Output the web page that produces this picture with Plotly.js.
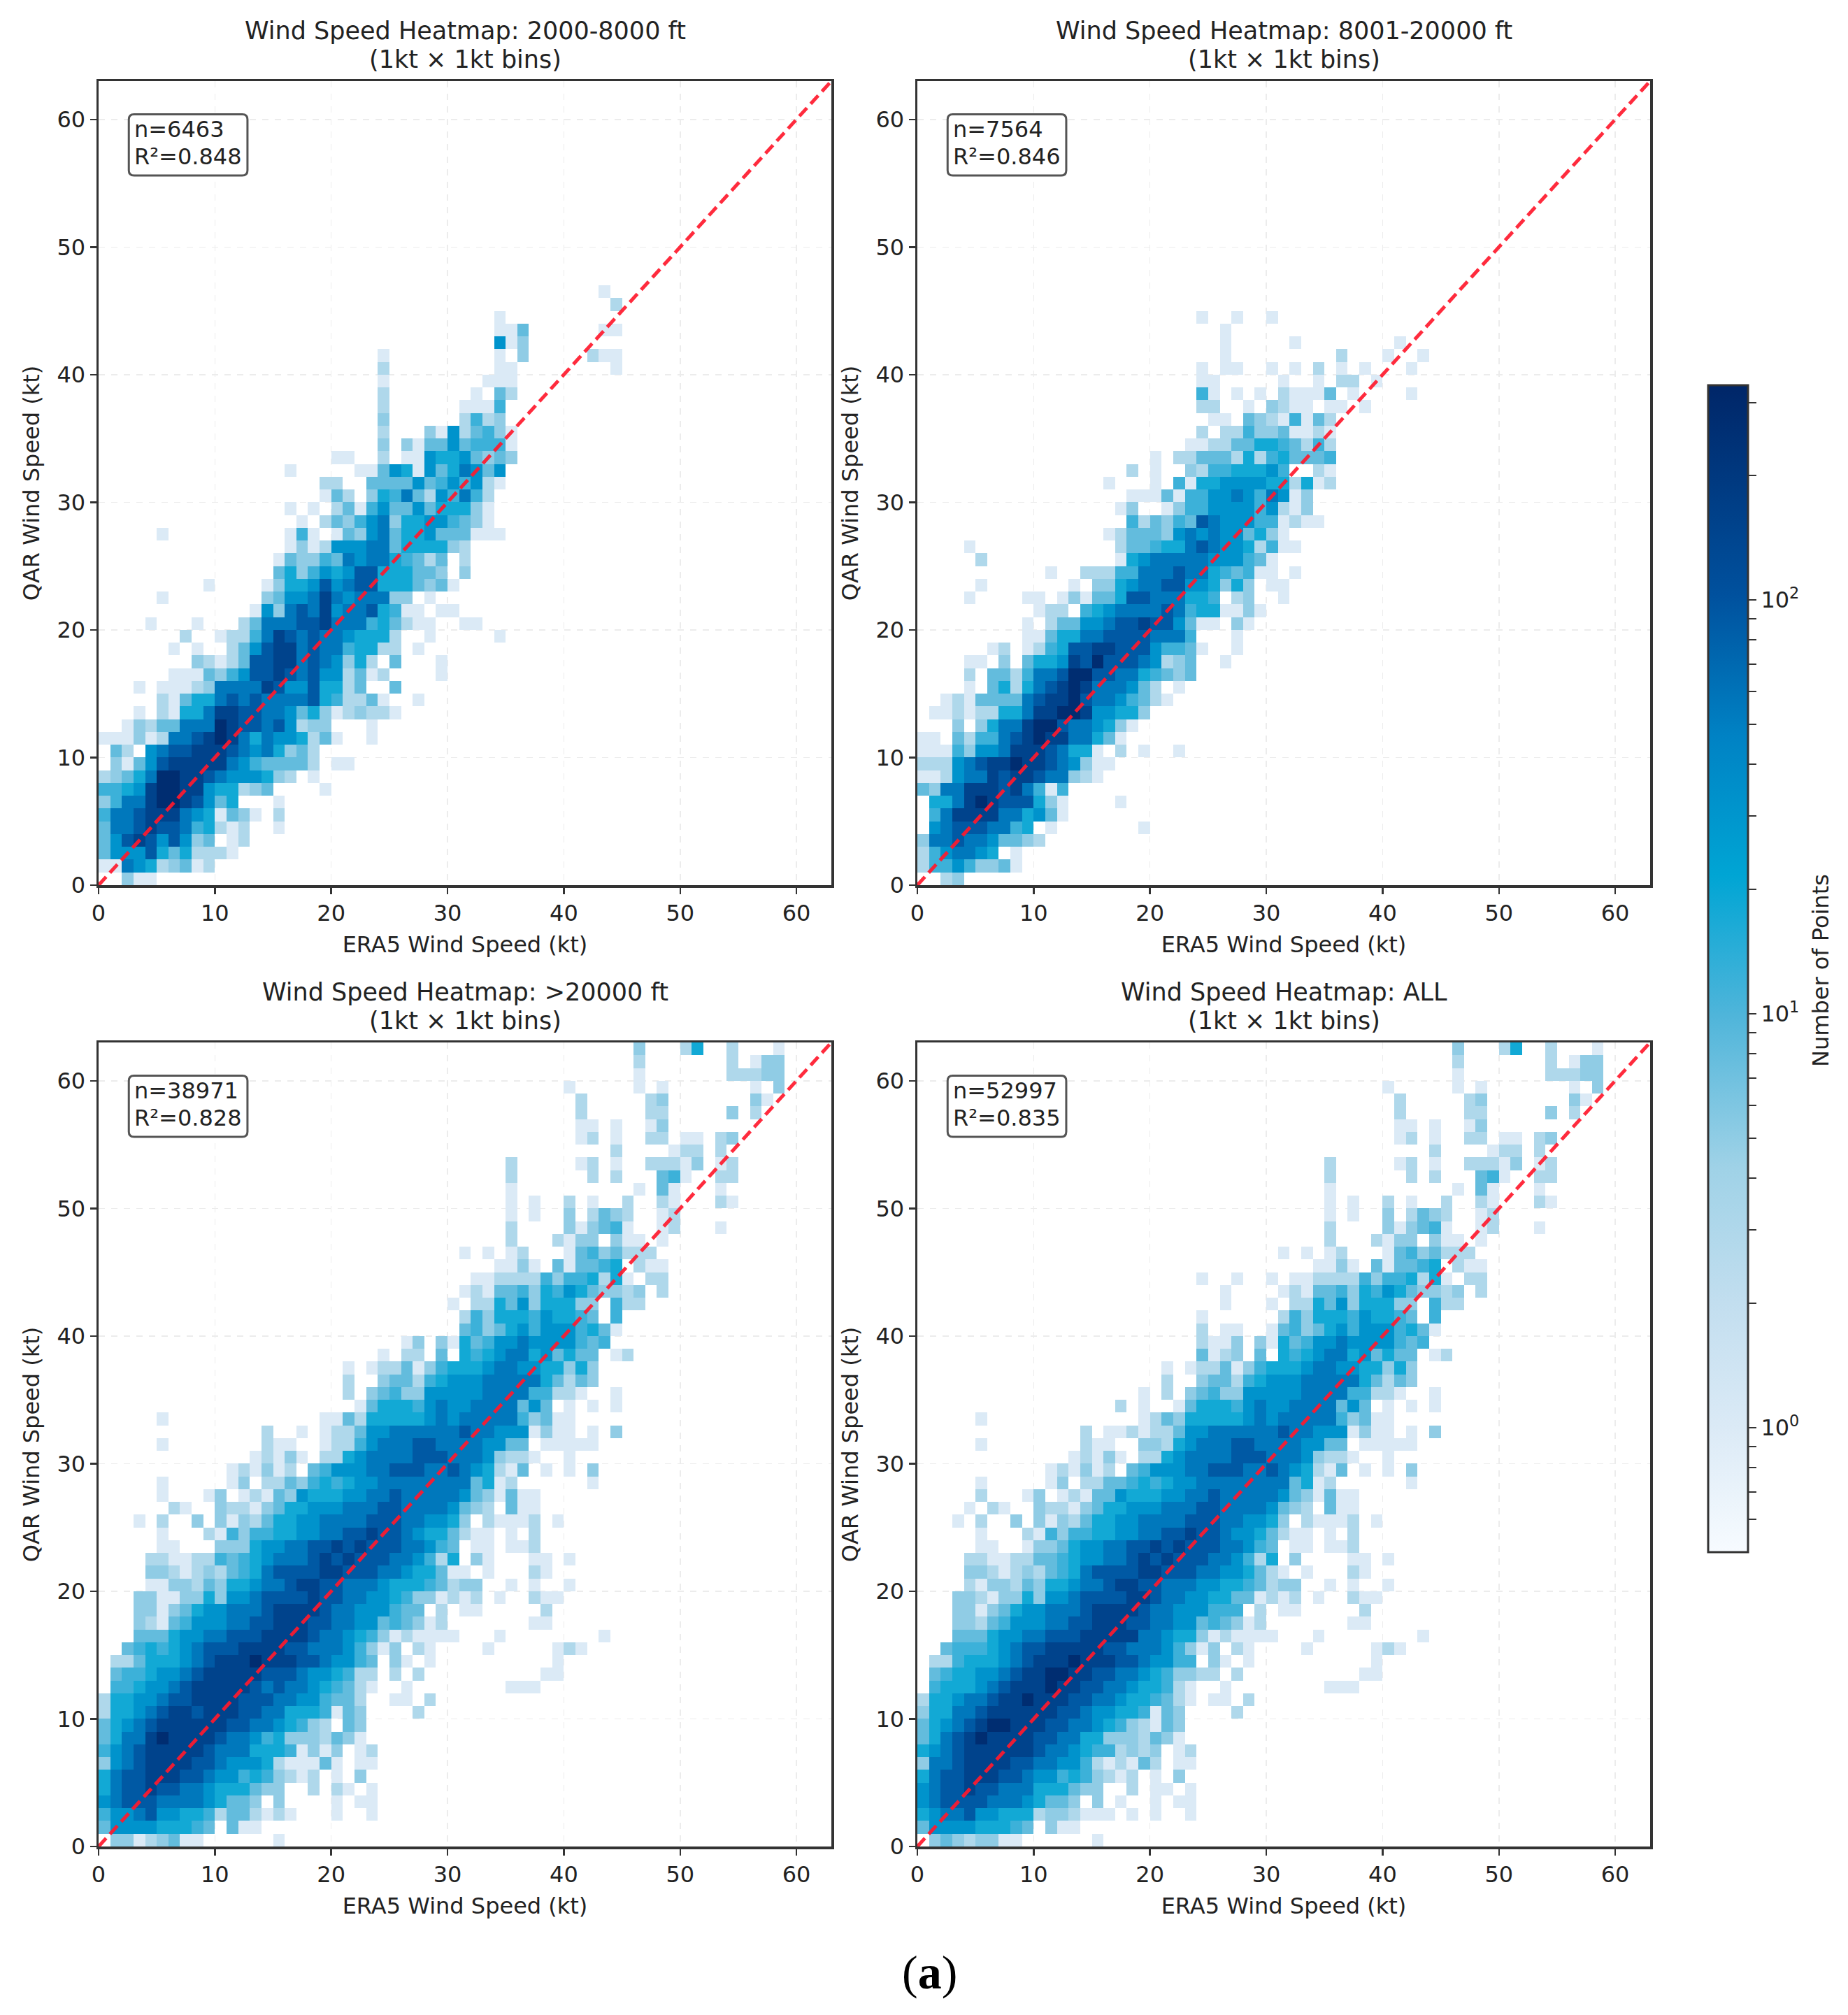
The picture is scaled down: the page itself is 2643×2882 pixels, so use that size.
<!DOCTYPE html>
<html>
<head>
<meta charset="utf-8">
<script src="https://cdn.plot.ly/plotly-3.0.1.min.js"></script>
<style>html,body{margin:0;padding:0;background:#fff}</style>
</head>
<body>
<div id="myDiv" style="width:2643px;height:2882px"></div>
<script>
var levelCounts = {'1':1,'2':3,'3':5,'4':8,'5':12,'6':18,'7':32,'8':55,'9':90,'a':150,'b':270};

// each entry: [QAR bin, first ERA5 bin, colour step of each following bin ('.' = empty)]
var rows2000 = [
[0,2,"311"],[1,0,"1187623412"],[2,0,"477796462221"],[3,0,"479a979734.12"],[4,0,"4889a99856212..1"],
[5,0,"5889aaa8761431.2"],[6,0,"3588abba9746...1"],[7,0,"5567abbaa766234....1"],[8,0,"23468bbaa98777632.1"],
[9,0,".31479aaaaa87544442.11"],[10,0,".42.7899aaa98786342"],[11,0,"111312889aba868776241..1"],
[12,2,"13244888ba99897233...1"],[13,3,"1.21668aa99887463123221"],[14,5,"21466898988889652241..1"],
[15,3,"1.111238888a97796624..4"],[16,6,"111435799a989772412....1"],[17,8,"3212499aa8987362.4...1"],
[18,6,"1.1..2479aa898856622.1"],[19,7,"2..12258a9898876662..1.....1"],[20,4,"1...1...2488899a888564211..11"],
[21,13,"173898a78896511.11"],[22,5,"1........34778a8788833.1"],[23,9,"1....13667978996664341"],
[24,15,"463576799666443.3"],[25,15,"143354878865424.2"],[26,16,"1312777884666632"],
[27,5,"1"],[27,16,"151.143784667444111"],[28,17,"1.243578366775431"],[29,16,"1.1.24157447466631"],
[30,19,"142.36584275852"],[31,19,"22..444474575721"],[32,16,"1.....1147617468747"],[33,20,"11..2.1176674343"],
[34,24,"3.3144745551"],[35,24,"2...31724531"],[36,24,"3......2523"],[37,24,"2......1115"],[38,24,"2.......1.42"],
[39,24,"1........111"],[40,24,"2.........11........1"],[41,24,"1.........1.3.....211"],[42,34,"713"],
[43,34,"114......11"],[44,34,"1"],[45,44,"2"],[46,43,"1"]
];

var rows8001 = [
[0,2,"23"],[1,0,"255753341"],[2,0,"2578876.1"],[3,0,"38898874432"],[4,1,"789998856.1.......1"],
[5,1,"58aaaa886741"],[6,1,"668aba999631....1"],[7,0,"4388aaa9a8515"],[8,0,"112788a9aa988321"],
[9,0,"222789aabaa987311"],[10,0,"11153778aaa98661.2.1..1"],[11,0,"11.425589abaa88641"],[12,3,"3.3688abb9887631"],
[13,1,"112122668aabba77663"],[14,2,"121444489aab98875421"],[15,4,"1.462689aba888742.1"],[16,4,"2.4425889bb998865434"],
[17,4,"11.3.4667a9b99987234..1"],[18,6,"12.125699aa99975541..1"],[19,9,"114668899998885...1"],[20,9,"1.24477899a997411.31"],
[21,10,"122.5678888985661131"],[22,4,"1....11.13144699888665.23..1"],[23,5,"1.......1.33678899776363.11"],
[24,11,"1..22255888988654511.1"],[25,5,"2...........16788888777541"],[26,4,"1............2445668987762511"],
[27,16,"1244437878774631"],[28,18,"52435498777551211"],[29,17,"13..1355777757213"],[30,18,"1114155778758713"],
[31,16,"1...1.51667777662612"],[32,18,"2.1..325566675..21"],[33,20,"1.22444262564445"],[34,23,"1122446654252"],
[35,24,"2.2253341121"],[36,25,"11.43215142"],[37,24,"22..1.3211.11.1"],[38,24,"51.1.1.21114.1....1"],
[39,24,"11.....1..1.22.1"],[40,24,"1.11..1.1.2.1.1...1"],[41,26,"1.........2...1..1"],[42,26,"1.....1........1"],
[43,26,"1"],[44,24,"1..1..1"]
];

var rows20000 = [
[0,1,"33123411......1"],[1,0,"4777766654.411"],[2,0,"57789776652442121...1..1"],[3,0,"78999888876443.3....1.11"],
[4,0,"6899a99887666433..2.21.1"],[5,0,"6899aaa998775653212.1.3"],[6,0,"3789aaaa9987776211141.11"],
[7,0,"5789aaaaa988866651313.12"],[8,0,"4688abaaaa9887563332431"],[9,0,"46789aaaaaa998876532.43"],
[10,0,"266789aa9aaa99886665143....2"],[11,0,"26677899aaaa99988775442..11.2"],[12,1,"5567789aaaaa98988765421..1........111"],
[13,1,"45567789aaaaa9998776522.2.2..........11"],[14,1,"224666789aaabaaa9987754.31.1..........1"],
[15,2,"4565678999aaaa9988875313.21....1.....121"],[16,3,"44467788999aaaa9887653121111...1........1"],
[17,3,"321457778899aaa998877454312.......11"],[18,3,"331346778889aaaa988777544.2.11.....2"],
[19,3,"331133637789999a99887765331212.1..211"],[20,4,"1133243667889aa99888766654233..1.1..1"],
[21,4,"332123245689999aa99988766411.1...21"],[22,4,"221122545678889a9a999887526.31...11.1"],
[23,5,"11...3336778899a9a99988754.11.112"],[24,5,"1...21535566778899a9987664211.1.2"],
[25,3,"1.2..3.3132466778888999887763.21112.1"],[26,6,"21..322134667778889988887432.411"],
[27,5,"1...13.12143766677889888887431411"],[28,5,"1.....13.2243565677888888884612......1"],
[29,11,"121312.4577788999889876214.1.1.3"],[30,13,"12131.2267888899988873221..1"],
[31,5,"1........211..122578889988887744.11111"],[32,14,"2..1.1224778888889887771311.1.3"],
[33,5,"1.............1142666667878888853411"],[34,22,"14666578778888474.1.1.1"],[35,21,"2.3453377777888855221..1"],
[36,21,"2..3442567778888864243"],[37,21,"1.12241356667887766363"],[38,24,"1.22.4.656788674644.12"],
[39,26,"13.316457787777545"],[40,31,"45346757775641"],[41,31,"253666576654.5"],[42,30,"1.22647366633.522"],
[43,31,"1214453657643323.2"],[44,32,"11222253556261.22"],[45,34,"1131.414456.211"],[46,31,"1.1.12...14534222"],
[47,35,"2...2133.311.1"],[48,35,"2....313451..12...1"],[49,35,"1.1..3.2432..12"],[50,35,"1.1..2.1..2..21...21"],
[51,35,"1..........1.41...1"],[52,35,"2......2.2...451..22"],[53,35,"2.....12.1..22213.12"],[54,44,"2....122.2"],
[55,41,"12.1..22.11.23"],[56,41,"11.1..13"],[57,41,"2.....22.....3.2"],[58,41,"2.....23.......31"],
[59,40,"1.....1.1.......1.3"],[60,46,"1.......22233"],[61,46,"2.......2.133"],[62,46,"3...26..2...1"]
];

var rowsAll = [
[0,1,"34323311......1"],[1,0,"4777766654.311"],[2,0,"67889776662332111.1.1..1"],[3,0,"78999988876443.3.1..1.11"],
[4,0,"7899a99888666433..2.11.1"],[5,0,"6899aaa998775653212.1.3"],[6,0,"3889aaaa9988775212142.11"],
[7,0,"6789aaaaaa98876552323.12"],[8,0,"4689abaaaa9988663332431"],[9,0,"46789abbaaa998876532143"],
[10,0,"366889aaaaaa99877665143....2"],[11,0,"2667889aabaaa99887665421.11.2"],[12,1,"5666789aaabaa9988766521..1........111"],
[13,1,"45667789aabbaa99887653322.2..........11"],[14,1,"225666789aaabaaa9987755.31.1..........1"],
[15,2,"455567899aaaaa9988875313.21....1.....121"],[16,3,"44467788999aaaaa887663121111...1........1"],
[17,3,"332457778899aaa998877454312.......11"],[18,3,"331346778889aaaa988777555.2.11.....2"],
[19,3,"332133637789999aa9887766441212.1..211"],[20,4,"2133243667889aa99888776654233..1.1..1"],
[21,4,"332123245689999aa99988776421.1...21"],[22,4,"221122445677889a9a999887526.3....11.1"],
[23,5,"11..13346778899a9a99988754.11.112"],[24,5,"1...21535566778899a9987764211.1.2"],
[25,3,"1.2..3.3132466778888999887763.21112.1"],[26,4,"1.21..322134667778889988887432.411"],
[27,5,"2...13.12144766677889888887431411"],[28,5,"1.....13.2244565677888888884612......1"],
[29,11,"121312.4577788999889876214.1.1.3"],[30,13,"12131.2267888899988873221..1"],
[31,5,"1........211..332678889988887744.11111"],[32,14,"2.1121224778888889887771311.1.3"],
[33,5,"1.............1243666667878888853411"],[34,17,"2.1..14666578778888474.1.1.1"],[35,19,"1.2.3453377777888855221..1"],
[36,21,"2..3442567778888864243"],[37,21,"1.12241356667887766363"],[38,24,"4123.4.656788674644.12"],
[39,24,"2113.316457787777545"],[40,24,"2.11..145346757775641"],[41,24,"1......253666576654.5"],[42,26,"1...1.22647366633.522"],
[43,26,"1....1214453657643323.2"],[44,24,"1..1..1.11222253556261.22"],[45,34,"1131.414456.211"],[46,31,"1.1.12...14534222"],
[47,35,"2...2133.311.1"],[48,35,"2....313451..12...1"],[49,35,"1.1..3.2432..12"],[50,35,"1.1..2.1..2..21...21"],
[51,35,"1..........1.41...1"],[52,35,"2......2.2...451..22"],[53,35,"2.....12.1..22213.12"],[54,44,"2....122.2"],
[55,41,"12.1..22.11.23"],[56,41,"11.1..13"],[57,41,"2.....22.....3.2"],[58,41,"2.....23.......31"],
[59,40,"1.....1.1.......1.3"],[60,46,"1.......22233"],[61,46,"2.......2.133"],[62,46,"3...26..2...1"]
];

var panelNames = ['2000-8000 ft','8001-20000 ft','>20000 ft','ALL'];
var panelRows = [rows2000,rows8001,rows20000,rowsAll];
var panelN = [6463,7564,38971,52997];
var panelR2 = ['0.848','0.846','0.828','0.835'];
var axisTicks = [0,10,20,30,40,50,60];
var axisMax = 63;
var countMin = 0.5;
var countMax = 330;
var cbarMajor = [1,10,100];
var cbarMinor = [0.6,0.7,0.8,0.9,2,3,4,5,6,7,8,9,20,30,40,50,60,70,80,90,200,300];

var W = 2643, H = 2882;
// plot frames in pixels
var frames = [
  {l:141,r:1189,t:116,b:1266},
  {l:1312,r:2360,t:116,b:1266},
  {l:141,r:1189,t:1491,b:2641},
  {l:1312,r:2360,t:1491,b:2641}
];

var binCentres = [];
for (var i = 0; i < axisMax; i++) binCentres.push(i + 0.5);

function toZ(rows) {
  var z = [];
  for (var j = 0; j < axisMax; j++) {
    var line = [];
    for (var k = 0; k < axisMax; k++) line.push(null);
    z.push(line);
  }
  rows.forEach(function(r) {
    for (var c = 0; c < r[2].length; c++) {
      var ch = r[2][c];
      if (ch !== '.' && r[1] + c < axisMax) z[r[0]][r[1] + c] = Math.log10(levelCounts[ch]);
    }
  });
  return z;
}

var data = [];
var layout = {
  width: W, height: H,
  margin: {l:0,r:0,t:0,b:0},
  paper_bgcolor: '#fff', plot_bgcolor: '#fff',
  showlegend: false,
  font: {family:'DejaVu Sans', color:'#222', size:32},
  annotations: [], shapes: [],
  coloraxis: {
    cmin: Math.log10(countMin), cmax: Math.log10(countMax),
    colorscale: [
      [0,'#f7fbff'],[0.107,'#dbeaf6'],[0.214,'#c2deef'],[0.33,'#9fd2e7'],[0.46,'#4fb5da'],
      [0.58,'#00a5d4'],[0.70,'#0082c4'],[0.82,'#00519e'],[1,'#002668']
    ],
    colorbar: {
      x: 2443/W, xanchor:'left', xpad:0, thickness:57, thicknessmode:'pixels',
      y: 1-2220/H, yanchor:'bottom', ypad:0, len:(2220-551)/H, lenmode:'fraction',
      outlinecolor:'#333', outlinewidth:3, ticks:'outside', ticklen:11, tickwidth:2, tickcolor:'#333',
      tickmode:'array',
      tickvals: cbarMajor.concat(cbarMinor).map(function(v){return Math.log10(v);}),
      ticktext: ['10<sup>0</sup>','10<sup>1</sup>','10<sup>2</sup>'].concat(cbarMinor.map(function(){return '';})),
      tickfont:{size:32,family:'DejaVu Sans',color:'#222'}
    }
  }
};

panelRows.forEach(function(rows, p) {
  var s = p === 0 ? '' : String(p + 1);
  var f = frames[p];
  data.push({type:'heatmap', x:binCentres, y:binCentres, z:toZ(rows), coloraxis:'coloraxis',
    hoverongaps:false, xaxis:'x'+s, yaxis:'y'+s});
  data.push({type:'scatter', mode:'lines', x:[0,axisMax], y:[0,axisMax], xaxis:'x'+s, yaxis:'y'+s,
    line:{color:'rgba(255,25,45,0.92)', width:5, dash:'16px,8px'}, hoverinfo:'skip'});

  var axis = {
    range:[0,axisMax], tickmode:'array', tickvals:axisTicks, ticks:'outside', ticklen:9, tickwidth:2.5,
    tickcolor:'#333', showline:true, mirror:true, linecolor:'#333', linewidth:3.5,
    showgrid:true, gridcolor:'#ececec', griddash:'dash', gridwidth:1.5, zeroline:false,
    tickfont:{size:32,family:'DejaVu Sans',color:'#222'}
  };
  layout['xaxis'+s] = Object.assign({}, axis, {domain:[f.l/W,f.r/W], anchor:'y'+s,
    title:{text:'ERA5 Wind Speed (kt)', font:{size:32}, standoff:16}});
  layout['yaxis'+s] = Object.assign({}, axis, {domain:[1-f.b/H,1-f.t/H], anchor:'x'+s,
    title:{text:'QAR Wind Speed (kt)', font:{size:32}, standoff:16}});

  // two title lines, set as separate labels to keep the tight line spacing
  layout.annotations.push({xref:'paper',yref:'paper',x:(f.l+f.r)/2/W,y:1-(f.t-72)/H,xanchor:'center',yanchor:'middle',showarrow:false,
    text:'Wind Speed Heatmap: '+panelNames[p].replace('>','&gt;'),font:{size:35}});
  layout.annotations.push({xref:'paper',yref:'paper',x:(f.l+f.r)/2/W,y:1-(f.t-31)/H,xanchor:'center',yanchor:'middle',showarrow:false,
    text:'(1kt \u00d7 1kt bins)',font:{size:35}});

  // stats box
  var x0 = 2.6, x1 = 12.8, y0 = 55.6, y1 = 60.4, rx = 0.45, ry = 0.4;
  layout.shapes.push({type:'path', xref:'x'+s, yref:'y'+s, line:{color:'#555',width:3}, fillcolor:'#fff',
    path:'M'+(x0+rx)+','+y0+' L'+(x1-rx)+','+y0+' Q'+x1+','+y0+' '+x1+','+(y0+ry)+' L'+x1+','+(y1-ry)+' Q'+x1+','+y1+' '+(x1-rx)+','+y1+
      ' L'+(x0+rx)+','+y1+' Q'+x0+','+y1+' '+x0+','+(y1-ry)+' L'+x0+','+(y0+ry)+' Q'+x0+','+y0+' '+(x0+rx)+','+y0+' Z'});
  layout.annotations.push({xref:'x'+s,yref:'y'+s,x:2.95,y:59.2,xanchor:'left',yanchor:'middle',showarrow:false,
    text:'n='+panelN[p],font:{size:32}});
  layout.annotations.push({xref:'x'+s,yref:'y'+s,x:2.95,y:57.1,xanchor:'left',yanchor:'middle',showarrow:false,
    text:'R\u00b2='+panelR2[p],font:{size:32}});
});

layout.annotations.push({xref:'paper',yref:'paper',x:2604/W,y:1-1388/H,xanchor:'center',yanchor:'middle',showarrow:false,textangle:-90,
  text:'Number of Points',font:{size:32}});
layout.annotations.push({xref:'paper',yref:'paper',x:1329/W,y:1-2821/H,xanchor:'center',yanchor:'middle',showarrow:false,
  text:'(<b>a</b>)',font:{size:68,family:'Liberation Serif',color:'#000'}});

Plotly.newPlot('myDiv', data, layout, {displayModeBar:false, staticPlot:true});
</script>
</body>
</html>
